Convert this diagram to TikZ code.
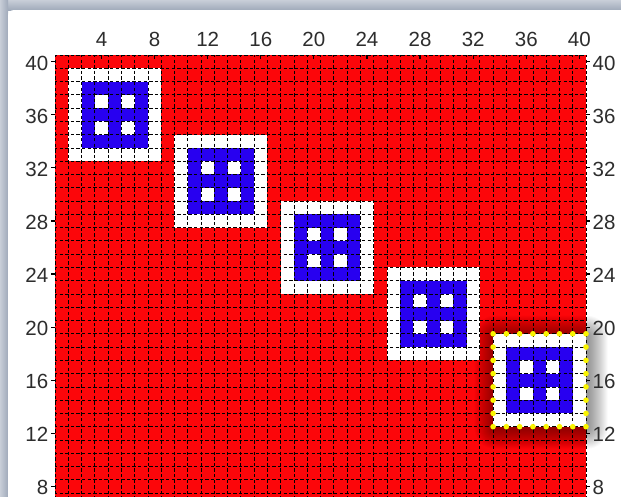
\documentclass[tikz,border=0pt]{standalone}
\usepackage{fontspec}
\setmainfont{Liberation Sans}
\definecolor{cellred}{RGB}{252,6,10}
\definecolor{cellblue}{RGB}{40,0,240}
\definecolor{dotyellow}{RGB}{250,245,0}
\definecolor{frametop}{RGB}{200,206,216}
\definecolor{framebot}{RGB}{160,170,186}
\definecolor{labelgray}{RGB}{45,45,45}
\tikzset{
  gridline/.style={black, line width=0.75pt, dash pattern=on 3.4pt off 2.2pt, dash phase=1pt},
  tickmark/.style={black, line width=1.2pt},
  axlabel/.style={font=\fontsize{20.5}{22}\selectfont, text=labelgray, inner sep=0pt},
  ydot/.style={fill=dotyellow},
}
\begin{document}
\begin{tikzpicture}[x=1pt,y=-1pt]
\useasboundingbox (0,0) rectangle (621,496);
\clip (0,0) rectangle (621,496);
% window frame
\shade[top color=frametop, bottom color=framebot] (0,0) rectangle (621,10);
\shade[left color=frametop, right color=framebot] (0,0) rectangle (8,496);
\fill[white, rounded corners=6pt] (8,10) rectangle (660,540);
% red field
\fill[cellred] (55,55) rectangle (586,520);
% shadow/glow around fifth square
\foreach \e in {1,...,20} {
  \fill[black, opacity=0.023, rounded corners=\e pt]
    ({493.1-\e+1.5},{333.8-\e+2}) rectangle ({586+\e+1.5},{426.7+\e+2});
}
% squares in cell units
\begin{scope}[shift={(55,55)}, x=13.275pt, y=-13.275pt]
  \foreach \k in {0,...,4} {
    \pgfmathtruncatemacro\cx{8*\k}
    \pgfmathtruncatemacro\cy{5*\k}
    \begin{scope}[shift={(\cx,\cy)}]
      \fill[white] (1,1) rectangle (8,8);
      \fill[cellblue] (2,2) rectangle (7,7);
      \fill[white] (3,3) rectangle (4,4);
      \fill[white] (5,3) rectangle (6,4);
      \fill[white] (3,5) rectangle (4,6);
      \fill[white] (5,5) rectangle (6,6);
    \end{scope}
  }
  % grid lines
  \foreach \i in {0,...,40} {
    \draw[gridline] (\i,0) -- (\i,34);
  }
  \foreach \j in {0,...,34} {
    \draw[gridline] (0,\j) -- (40,\j);
  }
  % yellow dots around selected square
  \foreach \i in {33,...,40} {
    \fill[ydot] (\i,21) circle[radius=2.8pt];
    \fill[ydot] (\i,28) circle[radius=2.8pt];
  }
  \foreach \j in {22,...,27} {
    \fill[ydot] (33,\j) circle[radius=2.8pt];
    \fill[ydot] (40,\j) circle[radius=2.8pt];
  }
  % ticks and labels
  \foreach \n in {4,8,...,40} {
    \draw[tickmark] ({\n-0.5},0) -- ++(0,0.3);
    \node[axlabel, anchor=base] (top\n) at ({\n-0.5},0) [yshift=8.5pt] {\n};
  }
  \foreach \n in {8,12,...,40} {
    \draw[tickmark] (0,{40-\n+0.5}) -- ++(-0.3,0);
    \draw[tickmark] (40,{40-\n+0.5}) -- ++(0.3,0);
    \node[axlabel, anchor=base east] (left\n) at (0,{40-\n+0.5}) [xshift=-6.5pt, yshift=-8.5pt] {\n};
    \node[axlabel, anchor=base west] (right\n) at (40,{40-\n+0.5}) [xshift=6.5pt, yshift=-8.5pt] {\n};
  }
\end{scope}
\end{tikzpicture}
\end{document}
